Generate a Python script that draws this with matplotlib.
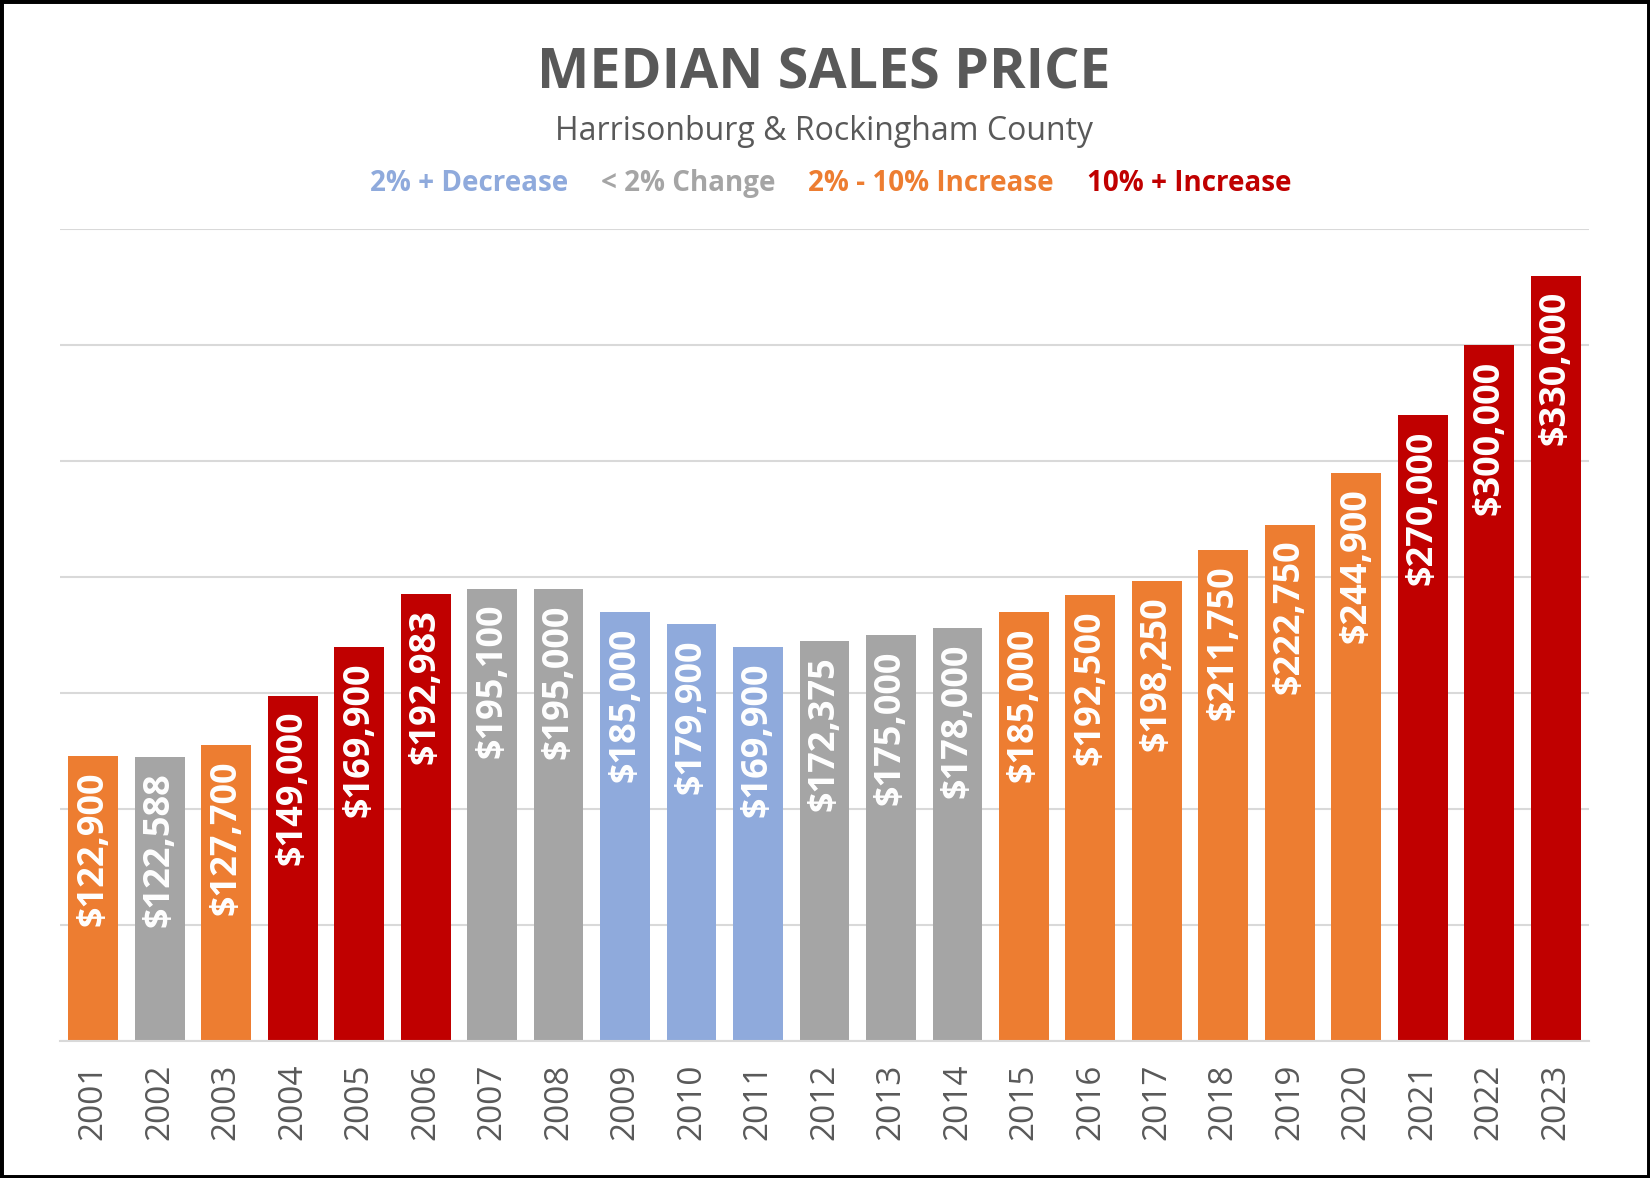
import matplotlib
matplotlib.use("Agg")
import matplotlib.pyplot as plt
from matplotlib.patches import Rectangle

years = [str(y) for y in range(2001, 2024)]
prices = [122900, 122588, 127700, 149000, 169900, 192983, 195100, 195000,
          185000, 179900, 169900, 172375, 175000, 178000, 185000, 192500,
          198250, 211750, 222750, 244900, 270000, 300000, 330000]
change_class = ["inc", "flat", "inc", "big", "big", "big", "flat", "flat",
                "dec", "dec", "dec", "flat", "flat", "flat", "inc", "inc",
                "inc", "inc", "inc", "inc", "big", "big", "big"]
legend_labels = ["2% + Decrease", "< 2% Change", "2% - 10% Increase", "10% + Increase"]
legend_keys = ["dec", "flat", "inc", "big"]

palette = {"dec": "#8FAADC", "flat": "#A5A5A5", "inc": "#ED7D31", "big": "#C00000"}
FONT = ["Open Sans", "DejaVu Sans"]
plt.rcParams["font.family"] = FONT

W, H = 1568, 1119
fig = plt.figure(figsize=(16.5, 11.78), dpi=100)
ax = fig.add_axes([57 / W, 1 - 989 / H, (1510 - 57) / W, (989 - 218) / H])

x = list(range(len(years)))
ax.bar(x, prices, width=0.75, color=[palette[c] for c in change_class], zorder=2)
ax.set_xlim(-0.5, len(years) - 0.5)
ax.set_ylim(0, 350000)
ax.set_yticks(range(0, 350001, 50000))
ax.yaxis.grid(True, color="#D9D9D9", linewidth=1.5, zorder=0)
ax.set_axisbelow(True)
ax.tick_params(axis="y", left=False, labelleft=False)
ax.tick_params(axis="x", length=0, pad=16)
ax.set_xticks(x)
ax.set_xticklabels(years, rotation=90, fontsize=24, color="#595959")
for s in ["top", "right", "left"]:
    ax.spines[s].set_visible(False)
ax.spines["bottom"].set_color("#D9D9D9")
ax.spines["bottom"].set_linewidth(1.5)

for xi, v in zip(x, prices):
    ax.annotate(f"${v:,}", (xi, v), xytext=(0, -11), textcoords="offset points",
                rotation=90, ha="center", va="top", color="white",
                fontsize=26, fontweight="bold")

fig.text(783 / W, 1 - 70 / H, "MEDIAN SALES PRICE", ha="center", va="center",
         fontsize=40, fontweight="bold", color="#595959")
fig.text(783 / W, 1 - 125 / H, "Harrisonburg & Rockingham County", ha="center",
         va="center", fontsize=23, color="#595959")
centers = [446, 654, 885, 1130]
for cx, lab, key in zip(centers, legend_labels, legend_keys):
    fig.text(cx / W, 1 - 174 / H, lab, ha="center", va="center", fontsize=20,
             fontweight="bold", color=palette[key])

fig.patches.append(Rectangle((0, 0), 1, 1, transform=fig.transFigure, fill=False,
                             edgecolor="black", linewidth=5))
fig.savefig("out.png", dpi=100)
